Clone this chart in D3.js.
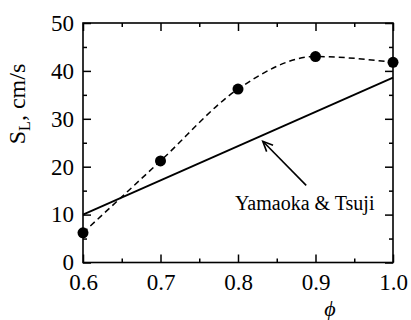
<!DOCTYPE html>
<html>
<head>
<meta charset="utf-8">
<script src="https://cdn.jsdelivr.net/npm/d3@7"></script>
<style>
  body { margin: 0; background: #fff; }
  svg { display: block; }
  text { font-family: "Times New Roman", "Liberation Serif", "DejaVu Serif", serif; fill: #000; }
</style>
</head>
<body>
<div id="chart"></div>
<script>
// measured points (dashed curve)
var phi = [0.6, 0.7, 0.8, 0.9, 1.0];
var sL = [6.2, 21.2, 36.2, 43.0, 41.8];
// Yamaoka & Tsuji line
var ytPhi = [0.6, 1.0];
var ytSL = [10, 38.6];
// ticks
var xTicks = [0.6, 0.7, 0.8, 0.9, 1.0];
var xMinor = [0.65, 0.75, 0.85, 0.95];
var yTicks = [0, 10, 20, 30, 40, 50];
var yMinor = [5, 15, 25, 35, 45];
// annotation (data coords)
var noteText = "Yamaoka & Tsuji";
var notePos = [0.796, 10.9];
var arrowFrom = [0.888, 16.1];
var arrowTo = [0.832, 25.3];

var width = 411, height = 320;
var svg = d3.select('#chart').append('svg').attr('width', width).attr('height', height);

var x = d3.scaleLinear().domain([0.6, 1.0]).range([83, 393]);
var y = d3.scaleLinear().domain([0, 50]).range([262.5, 23]);

function styleAxis(g) {
  g.select('.domain').remove();
  g.selectAll('line').attr('stroke', '#000').attr('stroke-width', 1.5);
  g.selectAll('text').style('font-size', '23px').attr('fill', '#000');
}

// major + minor ticks, all four sides, pointing inward
svg.append('g').attr('transform', 'translate(0,' + y(0) + ')')
  .call(d3.axisBottom(x).tickValues(xTicks).tickSize(-8).tickPadding(11).tickFormat(d3.format('.1f')))
  .call(styleAxis);
svg.append('g').attr('transform', 'translate(0,' + y(0) + ')')
  .call(d3.axisBottom(x).tickValues(xMinor).tickSize(-4).tickFormat(''))
  .call(styleAxis);
svg.append('g').attr('transform', 'translate(0,' + y(50) + ')')
  .call(d3.axisTop(x).tickValues(xTicks).tickSize(-8).tickFormat(''))
  .call(styleAxis);
svg.append('g').attr('transform', 'translate(0,' + y(50) + ')')
  .call(d3.axisTop(x).tickValues(xMinor).tickSize(-4).tickFormat(''))
  .call(styleAxis);

svg.append('g').attr('transform', 'translate(' + x(0.6) + ',0)')
  .call(d3.axisLeft(y).tickValues(yTicks).tickSize(-8).tickPadding(9).tickFormat(d3.format('d')))
  .call(styleAxis);
svg.append('g').attr('transform', 'translate(' + x(0.6) + ',0)')
  .call(d3.axisLeft(y).tickValues(yMinor).tickSize(-4).tickFormat(''))
  .call(styleAxis);
svg.append('g').attr('transform', 'translate(' + x(1.0) + ',0)')
  .call(d3.axisRight(y).tickValues(yTicks).tickSize(-8).tickFormat(''))
  .call(styleAxis);
svg.append('g').attr('transform', 'translate(' + x(1.0) + ',0)')
  .call(d3.axisRight(y).tickValues(yMinor).tickSize(-4).tickFormat(''))
  .call(styleAxis);

// frame
svg.append('rect')
  .attr('x', x(0.6)).attr('y', y(50))
  .attr('width', x(1.0) - x(0.6)).attr('height', y(0) - y(50))
  .attr('fill', 'none').attr('stroke', '#000').attr('stroke-width', 1.6);

// Yamaoka & Tsuji solid line
var ytData = ytPhi.map(function(p, i) { return [p, ytSL[i]]; });
svg.append('path')
  .attr('d', d3.line().x(function(d) { return x(d[0]); }).y(function(d) { return y(d[1]); })(ytData))
  .attr('fill', 'none').attr('stroke', '#000').attr('stroke-width', 1.8);

// dashed fit through the points
var pts = phi.map(function(p, i) { return [p, sL[i]]; });
svg.append('path')
  .attr('d', d3.line().curve(d3.curveMonotoneX).x(function(d) { return x(d[0]); }).y(function(d) { return y(d[1]); })(pts))
  .attr('fill', 'none').attr('stroke', '#000').attr('stroke-width', 1.5)
  .attr('stroke-dasharray', '6,4');

svg.selectAll('circle')
  .data(pts)
  .enter()
  .append('circle')
  .attr('cx', function(d) { return x(d[0]); })
  .attr('cy', function(d) { return y(d[1]); })
  .attr('r', 5.5)
  .attr('fill', '#000');

// annotation arrow
var ax1 = x(arrowFrom[0]), ay1 = y(arrowFrom[1]), ax2 = x(arrowTo[0]), ay2 = y(arrowTo[1]);
var ang = Math.atan2(ay1 - ay2, ax1 - ax2), head = 11, spread = 0.42;
svg.append('line').attr('x1', ax1).attr('y1', ay1).attr('x2', ax2).attr('y2', ay2)
  .attr('stroke', '#000').attr('stroke-width', 1.6);
svg.append('path')
  .attr('d', 'M' + (ax2 + head * Math.cos(ang - spread)) + ',' + (ay2 + head * Math.sin(ang - spread)) +
    'L' + ax2 + ',' + ay2 +
    'L' + (ax2 + head * Math.cos(ang + spread)) + ',' + (ay2 + head * Math.sin(ang + spread)))
  .attr('fill', 'none').attr('stroke', '#000').attr('stroke-width', 1.6);

svg.append('text')
  .attr('x', x(notePos[0])).attr('y', y(notePos[1]))
  .style('font-size', '20px')
  .text(noteText);

// axis titles
var yl = svg.append('text')
  .attr('transform', 'translate(25,104) rotate(-90)')
  .attr('text-anchor', 'middle')
  .style('font-size', '24px');
yl.append('tspan').text('S');
yl.append('tspan').attr('dy', 5).style('font-size', '16px').text('L');
yl.append('tspan').attr('dy', -5).text(', cm/s');

svg.append('text')
  .attr('x', 330).attr('y', 316)
  .attr('text-anchor', 'middle')
  .style('font-size', '22px')
  .style('font-style', 'italic')
  .text('\u03d5');
</script>
</body>
</html>
